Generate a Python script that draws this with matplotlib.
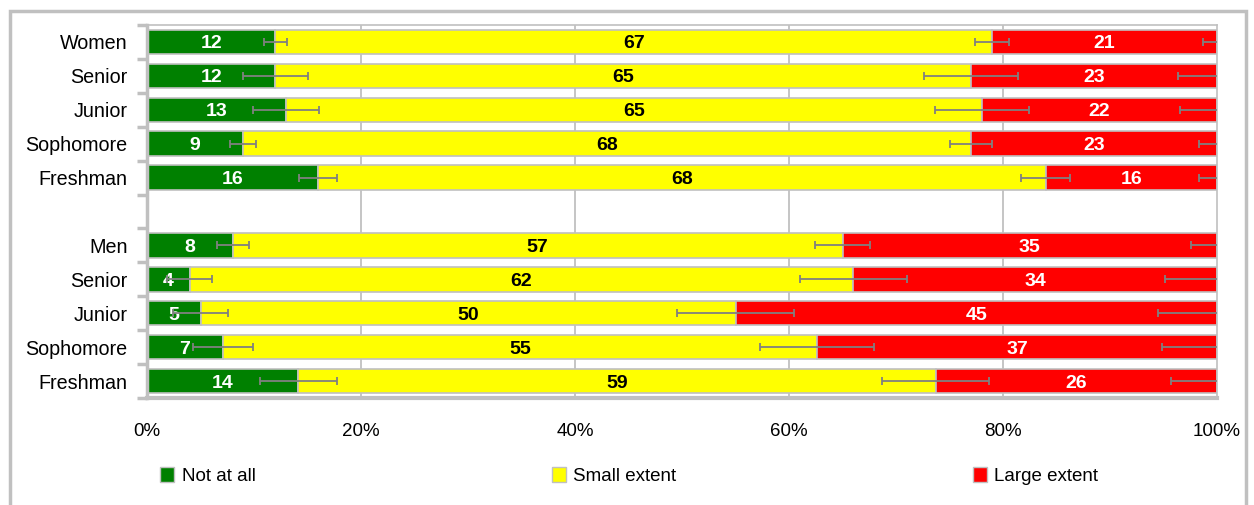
import matplotlib.pyplot as plt
import numpy as np
from matplotlib.patches import Patch, Rectangle

plt.rcParams['font.family'] = ['Liberation Sans', 'DejaVu Sans']

# Data (top to bottom), percentages shown in the bars
women_rows = ['Women', 'Senior', 'Junior', 'Sophomore', 'Freshman']
men_rows = ['Men', 'Senior', 'Junior', 'Sophomore', 'Freshman']

not_at_all = [12, 12, 13, 9, 16, 8, 4, 5, 7, 14]
small_extent = [67, 65, 65, 68, 68, 57, 62, 50, 55, 59]
large_extent = [21, 23, 22, 23, 16, 35, 34, 45, 37, 26]

# error bar half-widths at the end of each segment (percentage points)
err_not_at_all = [1.1, 3.0, 3.1, 1.2, 1.8, 1.5, 2.1, 2.6, 2.8, 3.6]
err_small = [1.6, 4.4, 4.4, 2.0, 2.3, 2.6, 5.0, 5.5, 5.3, 5.0]
err_large = [1.3, 3.6, 3.5, 1.7, 1.7, 2.4, 4.9, 5.5, 5.1, 4.3]

series_names = ['Not at all', 'Small extent', 'Large extent']
colors = ['#008000', '#FFFF00', '#FF0000']
text_colors = ['white', 'black', 'white']
edge = '#c0c0c0'

labels = women_rows + men_rows
n_w = len(women_rows)
y = np.array([i if i < n_w else i + 1 for i in range(len(labels))])

vals = np.array([not_at_all, small_extent, large_extent], dtype=float)
pct = vals / vals.sum(axis=0) * 100
errs = [err_not_at_all, err_small, err_large]

fig = plt.figure(figsize=(12.54, 5.05), dpi=100)
ax = fig.add_axes([147 / 1254, 107 / 505, 1070 / 1254, 373 / 505])

# vertical grid
for gx in [20, 40, 60, 80]:
    ax.axvline(gx, color=edge, lw=1.3, zorder=0)

left = np.zeros(len(labels))
for k in range(3):
    ax.barh(y, pct[k], left=left, height=0.72, color=colors[k],
            edgecolor=edge, linewidth=1.2, zorder=2)
    for i in range(len(labels)):
        ax.text(left[i] + pct[k][i] / 2, y[i], f"{int(vals[k][i])}",
                ha='center', va='center_baseline', color=text_colors[k],
                fontsize=14, fontweight='bold', zorder=4)
    left = left + pct[k]
    ax.errorbar(left, y, xerr=errs[k], fmt='none', ecolor='#808080',
                elinewidth=1.3, capsize=3, capthick=1.3, zorder=5)

ax.set_xlim(0, 100)
ax.set_ylim(len(labels) + 0.5, -0.5)
ax.set_xticks([0, 20, 40, 60, 80, 100])
ax.set_xticklabels(['0%', '20%', '40%', '60%', '80%', '100%'], fontsize=13.5)
ax.tick_params(axis='x', length=0, pad=18)

ax.set_yticks(y)
ax.set_yticklabels(labels, fontsize=14.2)
ax.set_yticks(np.arange(-0.5, len(labels) + 1, 1), minor=True)
ax.tick_params(axis='y', which='major', length=0, pad=14)
ax.tick_params(axis='y', which='minor', length=7, width=2.5, color=edge)

for s in ['top', 'right']:
    ax.spines[s].set_color(edge)
    ax.spines[s].set_linewidth(1.2)
ax.spines['left'].set_color(edge)
ax.spines['left'].set_linewidth(2.5)
ax.spines['bottom'].set_color(edge)
ax.spines['bottom'].set_linewidth(3)

handles = [Patch(facecolor=c, edgecolor=edge, linewidth=1) for c in colors]
fig.legend(handles, series_names, loc='center left',
           bbox_to_anchor=(160 / 1254, 1 - 476 / 505), ncol=3, frameon=False,
           fontsize=13.5, handlelength=0.75, handleheight=0.8,
           handletextpad=0.4, columnspacing=15.8, borderpad=0,
           borderaxespad=0)

# outer chart frame
fig.patches.append(Rectangle((10 / 1254, -0.05), 1236 / 1254, 1.05 - 11 / 505,
                             transform=fig.transFigure, fill=False,
                             edgecolor=edge, linewidth=2.5))

fig.savefig('out.png', dpi=100)
